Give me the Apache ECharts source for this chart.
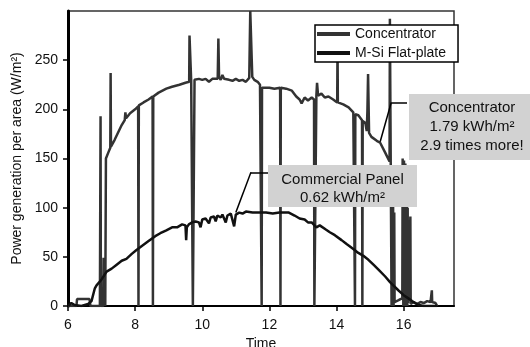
<!DOCTYPE html>
<html><head><meta charset="utf-8">
<script src="https://cdn.jsdelivr.net/npm/echarts@6/dist/echarts.min.js"></script>
<style>html,body{margin:0;padding:0;background:#fff}#c{width:530px;height:347px}</style>
</head><body><div id="c"></div>
<script>
const xTicks = [6, 8, 10, 12, 14, 16];
const yTicks = [0, 50, 100, 150, 200, 250];
const seriesNames = ['Concentrator', 'M-Si Flat-plate'];
// [time (h), power per area (W/m2)]
const concentrator = [
[6.0,0],[6.25,0],[6.27,7],[6.64,7],[6.67,0],[6.95,0],[6.97,193],[6.98,0],[7.05,0],[7.06,49],[7.08,0],[7.09,48],[7.11,0],[7.13,150],[7.2,156],[7.26,161],[7.27,237],[7.28,162],[7.39,169],[7.5,177],[7.6,184],[7.69,189],[7.71,197],[7.73,191],[7.85,196],[8.0,200],[8.09,203],[8.1,0],[8.11,204],[8.25,207],[8.4,210],[8.52,213],[8.53,0],[8.54,213],[8.7,217],[8.93,221],[9.1,223],[9.32,225],[9.5,227],[9.61,228],[9.62,275],[9.66,275],[9.67,229],[9.71,229],[9.72,0],[9.76,0],[9.77,230],[9.9,231],[10.0,230],[10.1,231],[10.2,228],[10.3,231],[10.46,231],[10.48,272],[10.5,233],[10.55,230],[10.6,235],[10.65,231],[10.7,232],[10.8,230],[10.9,229],[11.0,231],[11.1,229],[11.2,230],[11.3,228],[11.4,232],[11.43,300],[11.47,300],[11.49,233],[11.55,230],[11.65,228],[11.72,225],[11.76,223],[11.77,0],[11.78,222],[11.9,222],[12.0,222],[12.15,221],[12.2,223],[12.32,222],[12.33,0],[12.34,222],[12.5,221],[12.67,219],[12.8,213],[12.9,210],[12.96,206],[13.05,212],[13.15,209],[13.26,212],[13.33,210],[13.34,0],[13.39,0],[13.4,214],[13.42,227],[13.45,214],[13.55,216],[13.65,212],[13.76,213],[13.9,210],[14.02,207],[14.03,265],[14.04,207],[14.2,205],[14.36,202],[14.5,197],[14.54,196],[14.55,0],[14.56,195],[14.65,194],[14.76,189],[14.77,0],[14.78,188],[14.86,186],[14.9,178],[14.92,198],[14.94,236],[14.96,236],[14.97,176],[15.04,172],[15.2,168],[15.3,166],[15.45,156],[15.58,147],[15.59,292],[15.63,292],[15.64,0],[15.65,142],[15.67,0],[15.68,140],[15.7,0],[15.72,95],[15.73,4],[15.85,6],[15.96,8],[15.97,150],[15.99,0],[16.01,148],[16.03,0],[16.05,145],[16.07,0],[16.09,140],[16.11,0],[16.12,100],[16.13,3],[16.2,91],[16.21,2],[16.3,4],[16.4,2],[16.5,4],[16.6,3],[16.7,5],[16.8,4],[16.84,16],[16.85,4],[16.95,3],[17.0,0]
];
const flatPlate = [
[6.0,0],[6.1,3],[6.2,1],[6.4,0],[6.6,2],[6.7,5],[6.8,18],[6.85,21],[7.0,27],[7.15,35],[7.3,38],[7.45,42],[7.6,46],[7.74,48],[7.9,53],[8.04,57],[8.2,61],[8.4,66],[8.6,71],[8.75,74],[8.93,77],[9.1,80],[9.25,80],[9.4,83],[9.5,82],[9.52,67],[9.54,80],[9.6,83],[9.7,85],[9.8,86],[9.9,85],[9.95,80],[10.0,88],[10.1,89],[10.2,84],[10.25,90],[10.35,91],[10.4,86],[10.45,92],[10.55,90],[10.6,93],[10.7,85],[10.75,92],[10.85,94],[10.95,81],[11.0,93],[11.1,95],[11.2,94],[11.3,96],[11.5,95],[11.7,95],[11.9,95],[12.1,94],[12.3,95],[12.5,95],[12.58,95],[12.75,92],[12.9,89],[13.05,88],[13.15,85],[13.26,85],[13.4,80],[13.5,82],[13.67,78],[13.8,75],[13.95,72],[14.15,67],[14.3,63],[14.5,58],[14.65,54],[14.8,51],[14.95,47],[15.1,42],[15.25,37],[15.45,30],[15.6,24],[15.84,16],[16.0,11],[16.13,8],[16.25,5],[16.34,3],[16.45,1],[16.6,0],[16.8,0],[17.0,0]
];
const noteTexts = ['Concentrator\n1.79 kWh/m²\n2.9 times more!', 'Commercial Panel\n0.62 kWh/m²'];
// callout leader lines, in data coordinates
const pointers = [
  [[16.1,207],[15.63,207],[15.3,167]],
  [[11.96,136],[11.45,136],[11.0,95]]
];

const FONT = '"Liberation Sans", Arial, sans-serif';
const chart = echarts.init(document.getElementById('c'), null, {renderer: 'canvas'});
const leaderData = [];
pointers.forEach(p => {
  for (let i = 0; i < p.length - 1; i++) leaderData.push([{coord: p[i]}, {coord: p[i + 1]}]);
});
chart.setOption({
  animation: false,
  textStyle: {fontFamily: FONT},
  grid: {left: 68, top: 11, right: 76, bottom: 41, outerBoundsMode: 'none', containLabel: false,
         show: true, borderColor: '#333', borderWidth: 1.5, backgroundColor: 'transparent'},
  legend: {
    orient: 'vertical', left: 315, top: 25,
    padding: [2, 12, 2, 2], itemGap: 5, itemWidth: 33, itemHeight: 4, itemTextGap: 8,
    backgroundColor: '#fff', borderColor: '#000', borderWidth: 1.5, borderRadius: 0,
    textStyle: {fontSize: 14, color: '#111', fontFamily: FONT},
    data: [{name: seriesNames[0], icon: 'rect'}, {name: seriesNames[1], icon: 'rect'}]
  },
  xAxis: {
    type: 'value', min: 6, max: 17.5, interval: 2,
    name: 'Time', nameLocation: 'middle', nameGap: 25,
    nameTextStyle: {fontSize: 14, color: '#111', fontFamily: FONT},
    axisLine: {onZero: false, lineStyle: {color: '#000', width: 2}},
    axisTick: {show: true, length: 5, inside: false, lineStyle: {color: '#000', width: 1.5}, customValues: xTicks},
    axisLabel: {fontSize: 14, color: '#111', margin: 12, customValues: xTicks, fontFamily: FONT},
    splitLine: {show: false}
  },
  yAxis: {
    type: 'value', min: 0, max: 300, interval: 50,
    name: 'Power generation per area (W/m²)', nameLocation: 'middle', nameGap: 43,
    nameTextStyle: {fontSize: 14, color: '#111', fontFamily: FONT},
    axisLine: {show: true, lineStyle: {color: '#000', width: 3}},
    axisTick: {show: true, length: 5, lineStyle: {color: '#000', width: 1.5}, customValues: yTicks},
    axisLabel: {fontSize: 14, color: '#111', margin: 10, customValues: yTicks, fontFamily: FONT},
    splitLine: {show: false}
  },
  series: [
    {name: seriesNames[0], type: 'line', data: concentrator, showSymbol: false, symbol: 'none',
     lineStyle: {color: '#333', width: 2.5}, itemStyle: {color: '#333'}, z: 2},
    {name: seriesNames[1], type: 'line', data: flatPlate, showSymbol: false, symbol: 'none',
     lineStyle: {color: '#111', width: 2.5}, itemStyle: {color: '#111'}, z: 3,
     markLine: {silent: true, symbol: 'none', label: {show: false}, animation: false,
       lineStyle: {color: '#000', width: 1.5, type: 'solid'}, data: leaderData}}
  ],
  graphic: [
    {type: 'rect', x: 409, y: 94, shape: {width: 130, height: 66}, style: {fill: '#d2d2d2'}, z: 100},
    {type: 'text', x: 472, y: 98.5, z: 101, style: {text: noteTexts[0], font: '15px ' + FONT, fill: '#111', align: 'center', verticalAlign: 'top', lineHeight: 19}},
    {type: 'rect', x: 268, y: 165, shape: {width: 149, height: 42}, style: {fill: '#d2d2d2'}, z: 100},
    {type: 'text', x: 342.5, y: 171, z: 101, style: {text: noteTexts[1], font: '15px ' + FONT, fill: '#111', align: 'center', verticalAlign: 'top', lineHeight: 18}}
  ]
});
</script></body></html>
